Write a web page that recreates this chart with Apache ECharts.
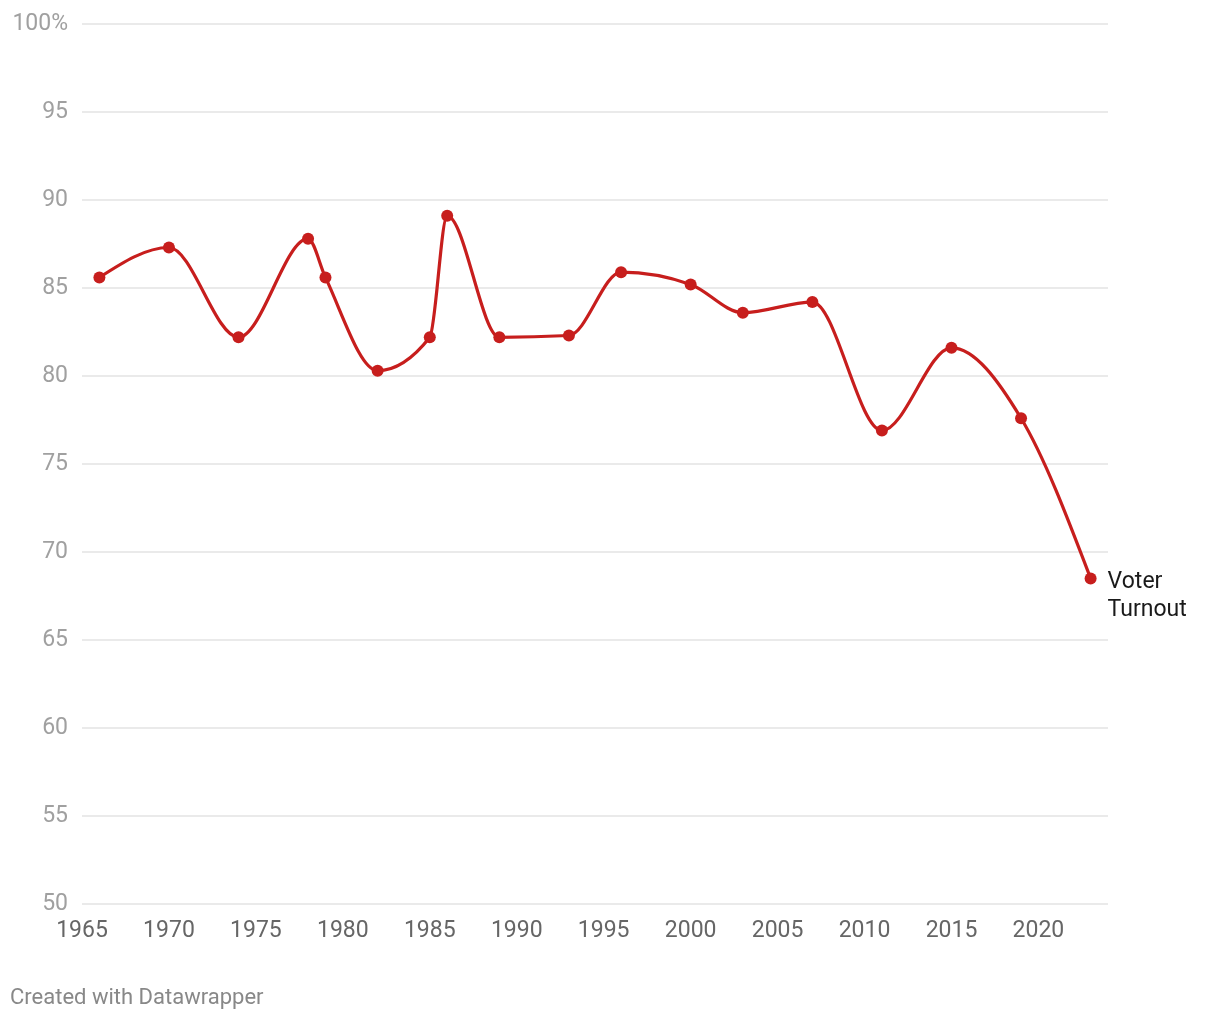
<!DOCTYPE html>
<html>
<head>
<meta charset="utf-8">
<script src="https://cdn.jsdelivr.net/npm/echarts@6/dist/echarts.min.js"></script>
<style>
html,body{margin:0;padding:0;background:#fff;}
#chart{width:1220px;height:1020px;}
</style>
</head>
<body>
<div id="chart"></div>
<script>
const years = [1966, 1970, 1974, 1978, 1979, 1982, 1985, 1986, 1989, 1993, 1996, 2000, 2003, 2007, 2011, 2015, 2019, 2023];
const turnout = [85.6, 87.3, 82.2, 87.8, 85.6, 80.3, 82.2, 89.1, 82.2, 82.3, 85.9, 85.2, 83.6, 84.2, 76.9, 81.6, 77.6, 68.5];
const seriesName = 'Voter\nTurnout';
const yTicks = [50, 55, 60, 65, 70, 75, 80, 85, 90, 95, 100];
const RED = '#c71e1d';

const points = years.map((y, i) => [y, turnout[i]]);

// d3 curveMonotoneX path through pixel points
function monotonePath(p) {
  const n = p.length;
  if (n < 2) return '';
  const sign = x => x < 0 ? -1 : 1;
  const t = new Array(n);
  for (let i = 1; i < n - 1; i++) {
    const h0 = p[i][0] - p[i-1][0], h1 = p[i+1][0] - p[i][0];
    const s0 = (p[i][1] - p[i-1][1]) / h0, s1 = (p[i+1][1] - p[i][1]) / h1;
    const pp = (s0 * h1 + s1 * h0) / (h0 + h1);
    t[i] = (sign(s0) + sign(s1)) * Math.min(Math.abs(s0), Math.abs(s1), 0.5 * Math.abs(pp)) || 0;
  }
  const h = (a, b) => b[0] - a[0];
  if (n > 2) {
    t[0] = (3 * (p[1][1] - p[0][1]) / h(p[0], p[1]) - t[1]) / 2;
    t[n-1] = (3 * (p[n-1][1] - p[n-2][1]) / h(p[n-2], p[n-1]) - t[n-2]) / 2;
  } else {
    t[0] = t[1] = (p[1][1] - p[0][1]) / h(p[0], p[1]);
  }
  let d = 'M' + p[0][0] + ',' + p[0][1];
  for (let i = 0; i < n - 1; i++) {
    const dx = (p[i+1][0] - p[i][0]) / 3;
    d += 'C' + (p[i][0] + dx) + ',' + (p[i][1] + dx * t[i]) + ',' +
         (p[i+1][0] - dx) + ',' + (p[i+1][1] - dx * t[i+1]) + ',' +
         p[i+1][0] + ',' + p[i+1][1];
  }
  return d;
}

const dotData = points.map((v, i) => {
  const item = { value: v };
  if (i === points.length - 1) {
    item.label = {
      show: true, position: 'right', distance: 11, offset: [0, 18],
      formatter: seriesName, color: '#1a1a1a', fontSize: 23, lineHeight: 28,
      fontFamily: 'Roboto', align: 'left', opacity: 1
    };
  }
  return item;
});

const chart = echarts.init(document.getElementById('chart'), null, { renderer: 'canvas' });
chart.setOption({
  animation: false,
  backgroundColor: '#fff',
  textStyle: { fontFamily: 'Roboto' },
  title: {
    text: 'Created with Datawrapper', left: 5, top: 982,
    textStyle: { color: '#888', fontSize: 22, fontWeight: 'normal', fontFamily: 'Roboto' }
  },
  grid: { left: 82, right: 112, top: 24, bottom: 116, containLabel: false },
  xAxis: {
    type: 'value', min: 1965, max: 2024, interval: 5,
    axisLine: { show: false }, axisTick: { show: false }, splitLine: { show: false },
    axisLabel: { color: '#666', fontSize: 23, margin: 16, showMaxLabel: false, fontFamily: 'Roboto',
      formatter: v => String(v) }
  },
  yAxis: {
    type: 'value', min: yTicks[0], max: yTicks[yTicks.length - 1], interval: 5,
    axisLine: { show: false }, axisTick: { show: false },
    splitLine: { lineStyle: { color: '#e3e3e3', width: 1.5 } },
    axisLabel: {
      color: '#a0a0a0', fontSize: 23, margin: 14, fontFamily: 'Roboto',
      formatter: v => v === 100 ? '100%' : String(v)
    }
  },
  series: [{
    type: 'custom', name: 'line', data: points, silent: true, z: 2,
    renderItem: function (params, api) {
      if (params.dataIndex !== 0) return null;
      const px = points.map(d => api.coord(d));
      return {
        type: 'path',
        shape: { pathData: monotonePath(px) },
        style: { stroke: RED, lineWidth: 3.2, fill: null, lineJoin: 'round', lineCap: 'round' }
      };
    }
  }, {
    type: 'scatter', name: seriesName, data: dotData, z: 3,
    symbol: 'circle', symbolSize: 12,
    itemStyle: { color: RED, opacity: 1 }
  }]
});
</script>
</body>
</html>
